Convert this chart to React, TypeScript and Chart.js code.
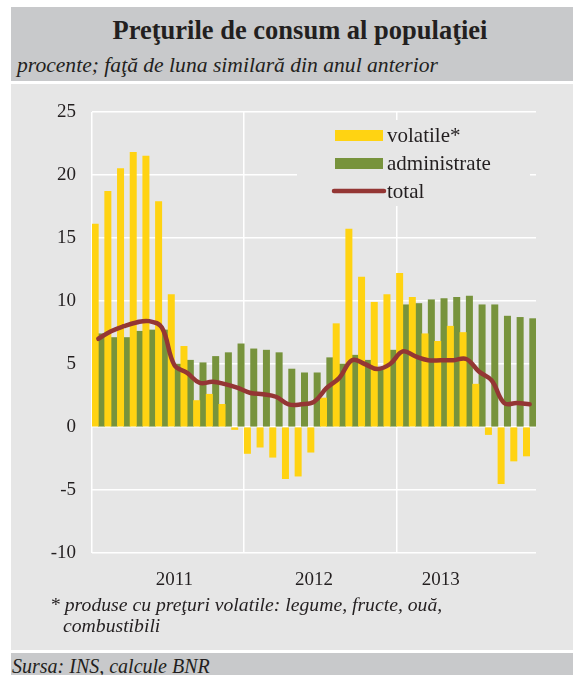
import React, { useEffect, useRef } from 'react';
import { Chart, registerables } from 'chart.js';

Chart.register(...registerables);

// ---- data ----
const months = [
  'ian 2011', 'feb 2011', 'mar 2011', 'apr 2011', 'mai 2011', 'iun 2011',
  'iul 2011', 'aug 2011', 'sep 2011', 'oct 2011', 'noi 2011', 'dec 2011',
  'ian 2012', 'feb 2012', 'mar 2012', 'apr 2012', 'mai 2012', 'iun 2012',
  'iul 2012', 'aug 2012', 'sep 2012', 'oct 2012', 'noi 2012', 'dec 2012',
  'ian 2013', 'feb 2013', 'mar 2013', 'apr 2013', 'mai 2013', 'iun 2013',
  'iul 2013', 'aug 2013', 'sep 2013', 'oct 2013', 'noi 2013',
];

const volatile = [
  16.1, 18.7, 20.5, 21.8, 21.5, 17.9, 10.5, 6.4, 2.1, 2.6, 1.8, -0.2,
  -2.1, -1.6, -2.4, -4.1, -3.9, -2.0, 2.3, 8.2, 15.7, 11.9, 9.9, 10.5,
  12.2, 10.3, 7.4, 6.8, 8.0, 7.5, 3.4, -0.6, -4.5, -2.7, -2.3,
];

const administrate = [
  7.4, 7.1, 7.1, 7.6, 7.7, 7.7, 5.0, 5.3, 5.1, 5.6, 5.9, 6.6,
  6.2, 6.1, 5.9, 4.6, 4.3, 4.3, 5.5, 5.0, 5.7, 5.3, 4.5, 6.1,
  9.7, 9.8, 10.1, 10.2, 10.3, 10.4, 9.7, 9.7, 8.8, 8.7, 8.6,
];

const total = [
  7.0, 7.6, 8.0, 8.3, 8.4, 7.9, 4.9, 4.3, 3.5, 3.6, 3.4, 3.1,
  2.7, 2.6, 2.4, 1.8, 1.8, 2.0, 3.1, 3.9, 5.3, 5.0, 4.6, 5.0,
  6.0, 5.6, 5.3, 5.3, 5.3, 5.4, 4.4, 3.7, 1.9, 1.9, 1.8,
];

const yearLabels = ['2011', '2012', '2013'];
const yearLabelIndex = [6, 17, 27];
const yearStartIndex = [0, 12, 24];

const seriesNames = ['volatile*', 'administrate', 'total'];

// ---- styles ----
const FONT = "'Liberation Serif', 'Times New Roman', Times, serif";
const BG = '#e6e6e6';
const BAND = '#c8c9cb';
const YELLOW = '#ffd312';
const GREEN = '#77933c';
const RED = '#943634';
const TEXT = '#231f20';

const legendPlugin = {
  id: 'insideLegend',
  afterDatasetsDraw(chart: any) {
    const { ctx, chartArea } = chart;
    const L = chartArea.left;
    const T = chartArea.top;
    ctx.save();
    ctx.fillStyle = BG;
    ctx.fillRect(L + 205, T + 8, 233, 86);
    const colors = [YELLOW, GREEN, RED];
    const ys = [23.5, 51.5, 79];
    ctx.font = `21px ${FONT}`;
    ctx.textBaseline = 'middle';
    ctx.textAlign = 'left';
    seriesNames.forEach((name, i) => {
      const cy = T + ys[i];
      if (i < 2) {
        ctx.fillStyle = colors[i];
        ctx.fillRect(L + 243, cy - 5.5, 48, 11);
      } else {
        ctx.strokeStyle = colors[i];
        ctx.lineWidth = 4.5;
        ctx.lineCap = 'round';
        ctx.beginPath();
        ctx.moveTo(L + 242, cy);
        ctx.lineTo(L + 292, cy);
        ctx.stroke();
      }
      ctx.fillStyle = TEXT;
      ctx.fillText(name, L + 295, cy + 1);
    });
    ctx.restore();
  },
};

function ChartCanvas() {
  const ref = useRef<HTMLCanvasElement | null>(null);
  useEffect(() => {
    if (!ref.current) return;
    const chart = new Chart(ref.current, {
      type: 'bar',
      data: {
        labels: months,
        datasets: [
          {
            type: 'line',
            label: seriesNames[2],
            data: total,
            borderColor: RED,
            backgroundColor: RED,
            borderWidth: 4.5,
            pointRadius: 0,
            tension: 0.4,
            borderCapStyle: 'round',
            borderJoinStyle: 'round',
            order: 0,
          } as any,
          {
            type: 'bar',
            label: seriesNames[0],
            data: volatile,
            backgroundColor: YELLOW,
            barPercentage: 1,
            categoryPercentage: 1,
            order: 1,
          },
          {
            type: 'bar',
            label: seriesNames[1],
            data: administrate,
            backgroundColor: GREEN,
            barPercentage: 1,
            categoryPercentage: 1,
            order: 1,
          },
        ],
      },
      options: {
        animation: false,
        responsive: false,
        devicePixelRatio: 1,
        layout: { padding: { top: 28, right: 37, left: 0, bottom: 0 } },
        plugins: {
          legend: { display: false },
          tooltip: { enabled: false },
        },
        scales: {
          x: {
            type: 'category',
            offset: true,
            border: { display: false },
            grid: {
              offset: true,
              drawTicks: false,
              lineWidth: 1.5,
              color: (c: any) =>
                c.index !== undefined && yearStartIndex.includes(c.index)
                  ? '#ffffff'
                  : 'rgba(0,0,0,0)',
            },
            ticks: {
              autoSkip: false,
              maxRotation: 0,
              minRotation: 0,
              padding: 16,
              color: TEXT,
              font: { family: FONT, size: 19 },
              callback: (_v: any, i: number) => {
                const k = yearLabelIndex.indexOf(i);
                return k >= 0 ? yearLabels[k] : '';
              },
            },
            afterFit: (s: any) => {
              s.height = 97;
            },
          },
          y: {
            min: -10,
            max: 25,
            border: { display: false },
            grid: { color: '#ffffff', lineWidth: 1.5, drawTicks: false },
            ticks: {
              stepSize: 5,
              padding: 16,
              color: TEXT,
              font: { family: FONT, size: 19 },
            },
            afterFit: (s: any) => {
              s.width = 81;
            },
          },
        },
      },
      plugins: [legendPlugin],
    } as any);
    return () => chart.destroy();
  }, []);
  return (
    <canvas
      ref={ref}
      width={562}
      height={566}
      style={{ display: 'block', width: 562, height: 566, background: BG }}
    />
  );
}

export default function App() {
  const abs = (s: React.CSSProperties): React.CSSProperties => ({ position: 'absolute', ...s });
  return (
    <div
      style={{
        position: 'fixed',
        left: 0,
        top: 0,
        width: 573,
        height: 675,
        background: '#ffffff',
        overflow: 'hidden',
        fontFamily: FONT,
        color: TEXT,
      }}
    >
      <div style={abs({ left: 11, top: 7, width: 562, height: 74, background: BAND })} />
      <div
        style={abs({
          left: 0,
          top: 14,
          width: 600,
          textAlign: 'center',
          fontSize: 26.5,
          fontWeight: 'bold',
          lineHeight: '32px',
          whiteSpace: 'nowrap',
        })}
      >
        Preţurile de consum al populaţiei
      </div>
      <div
        style={abs({
          left: 17,
          top: 52,
          fontSize: 21.6,
          fontStyle: 'italic',
          lineHeight: '26px',
          whiteSpace: 'nowrap',
        })}
      >
        procente; faţă de luna similară din anul anterior
      </div>
      <div style={abs({ left: 11, top: 84 })}>
        <ChartCanvas />
      </div>
      <div
        style={abs({
          left: 50,
          top: 594,
          fontSize: 19.7,
          fontStyle: 'italic',
          lineHeight: '21px',
          whiteSpace: 'nowrap',
        })}
      >
        * produse cu preţuri volatile: legume, fructe, ouă,
        <br />
        <span style={{ paddingLeft: 13 }}>combustibili</span>
      </div>
      <div style={abs({ left: 11, top: 653, width: 562, height: 22, background: BAND })} />
      <div
        style={abs({
          left: 12,
          top: 654,
          fontSize: 20,
          fontStyle: 'italic',
          lineHeight: '24px',
          whiteSpace: 'nowrap',
        })}
      >
        Sursa: INS, calcule BNR
      </div>
    </div>
  );
}
